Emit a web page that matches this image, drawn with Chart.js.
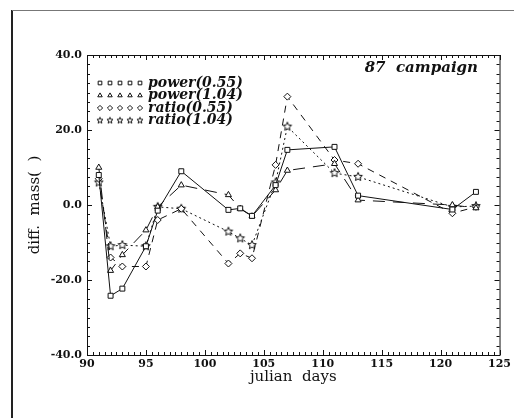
<!DOCTYPE html>
<html>
<head>
<meta charset="utf-8">
<script src="https://cdn.jsdelivr.net/npm/chart.js@4.4.1/dist/chart.umd.min.js"></script>
<style>
  html, body { margin: 0; padding: 0; background: #fff; }
  #wrap { width: 514px; height: 418px; position: relative; }
</style>
</head>
<body>
<div id="wrap"><canvas id="chart" width="514" height="418"></canvas></div>
<script>
// julian days sampled
const days = [91, 92, 93, 95, 96, 98, 102, 103, 104, 106, 107, 111, 113, 121, 123];

// diff. mass per method
const power055 = [8, -24.2, -22.3, -11, -1.5, 9, -1.3, -0.9, -2.9, 5.3, 14.7, 15.5, 2.5, -1.2, 3.5];
const power104 = [10, -17.5, -13.3, -6.7, -0.5, 5.3, 2.7, -1, -3, 4, 9.2, 11, 1.3, 0, -0.8];
const ratio055 = [7, -14, -16.4, -16.4, -4, -1, -15.6, -12.9, -14.2, 10.7, 28.9, 12, 11, -2.2, -0.5];
const ratio104 = [6, -11, -10.7, -11, -0.5, -1, -7.1, -8.9, -10.7, 6, 20.9, 8.5, 7.5, -0.5, -0.3];

const seriesNames = ['power(0.55)', 'power(1.04)', 'ratio(0.55)', 'ratio(1.04)'];
const xTicks = [90, 95, 100, 105, 110, 115, 120, 125];
const yTicks = [-40, -20, 0, 20, 40];

const serif = '"DejaVu Serif", "Liberation Serif", serif';

// outlined five-point star, since the built-in 'star' is an asterisk
function makeStar(r) {
    const c = document.createElement('canvas');
    const size = Math.ceil(r * 2 + 3);
    c.width = size;
    c.height = size;
    const g = c.getContext('2d');
    const cx = size / 2, cy = size / 2;
    g.beginPath();
    for (let i = 0; i < 10; i++) {
        const rr = i % 2 === 0 ? r : r * 0.45;
        const ang = -Math.PI / 2 + i * Math.PI / 5;
        const px = cx + rr * Math.cos(ang);
        const py = cy + rr * Math.sin(ang);
        if (i === 0) g.moveTo(px, py); else g.lineTo(px, py);
    }
    g.closePath();
    g.fillStyle = '#fff';
    g.fill();
    g.strokeStyle = '#111';
    g.lineWidth = 1;
    g.stroke();
    return c;
}
const starBig = makeStar(4.5);
const starSmall = makeStar(3.2);

function pts(values) {
    return days.map((d, i) => ({ x: d, y: values[i] }));
}

function lineSet(label, values, style, dash) {
    return {
        label: label,
        data: pts(values),
        borderColor: '#111',
        borderWidth: 1,
        borderDash: dash,
        pointStyle: style,
        pointRadius: 3.5,
        pointBorderColor: '#111',
        pointBorderWidth: 1,
        pointBackgroundColor: '#fff',
        tension: 0,
        fill: false
    };
}

// box, inward minor ticks, in-plot legend and annotation
const framePlugin = {
    id: 'frame',
    afterDatasetsDraw(chart) {
        const ctx = chart.ctx;
        const a = chart.chartArea;
        const xs = chart.scales.x;
        const ys = chart.scales.y;
        ctx.save();

        // outer page frame
        ctx.strokeStyle = '#222';
        ctx.lineWidth = 2;
        ctx.beginPath();
        ctx.moveTo(12, 418);
        ctx.lineTo(12, 10);
        ctx.stroke();
        ctx.strokeStyle = '#777';
        ctx.lineWidth = 1;
        ctx.beginPath();
        ctx.moveTo(12, 10.5);
        ctx.lineTo(514, 10.5);
        ctx.stroke();

        // plot box
        ctx.strokeStyle = '#111';
        ctx.lineWidth = 1;
        ctx.strokeRect(a.left + 0.5, a.top + 0.5, a.right - a.left, a.bottom - a.top);

        // minor ticks
        ctx.beginPath();
        for (let v = 90; v <= 125.001; v += 0.5) {
            const px = Math.round(xs.getPixelForValue(v)) + 0.5;
            const len = (v % 5 === 0) ? 5 : 3;
            ctx.moveTo(px, a.bottom);
            ctx.lineTo(px, a.bottom - len);
            ctx.moveTo(px, a.top);
            ctx.lineTo(px, a.top + len);
        }
        for (let v = -40; v <= 40.001; v += 2.5) {
            const py = Math.round(ys.getPixelForValue(v)) + 0.5;
            const len = (v % 20 === 0) ? 5 : 3;
            ctx.moveTo(a.left, py);
            ctx.lineTo(a.left + len, py);
            ctx.moveTo(a.right, py);
            ctx.lineTo(a.right - len, py);
        }
        ctx.stroke();

        // legend with five markers per entry
        const rowY = [83, 95.5, 108, 120.5];
        ctx.font = 'italic bold 14px ' + serif;
        ctx.textBaseline = 'middle';
        ctx.textAlign = 'left';
        chart.data.datasets.forEach((ds, i) => {
            ctx.strokeStyle = '#111';
            ctx.fillStyle = '#fff';
            ctx.lineWidth = 1;
            const style = ds.pointStyle === starBig ? starSmall : ds.pointStyle;
            for (let k = 0; k < 5; k++) {
                Chart.helpers.drawPoint(ctx, {
                    pointStyle: style,
                    radius: 2.6,
                    borderWidth: 1
                }, 100 + k * 10, rowY[i]);
            }
            ctx.fillStyle = '#111';
            ctx.fillText(seriesNames[i], 148, rowY[i]);
        });

        ctx.font = 'italic bold 15px ' + serif;
        ctx.textAlign = 'right';
        ctx.fillText('87  campaign', 478, 68);
        ctx.restore();
    }
};

new Chart(document.getElementById('chart'), {
    type: 'line',
    data: {
        datasets: [
            lineSet(seriesNames[0], power055, 'rect', []),
            lineSet(seriesNames[1], power104, 'triangle', [12, 8]),
            lineSet(seriesNames[2], ratio055, 'rectRot', [7, 6]),
            lineSet(seriesNames[3], ratio104, starBig, [2, 3])
        ]
    },
    options: {
        responsive: false,
        animation: false,
        layout: { padding: { top: 55, right: 14, left: 0, bottom: 0 } },
        plugins: {
            legend: { display: false },
            tooltip: { enabled: false }
        },
        scales: {
            x: {
                type: 'linear',
                min: 90,
                max: 125,
                afterBuildTicks: (s) => { s.ticks = xTicks.map(v => ({ value: v })); },
                afterFit: (s) => { s.height = 63; },
                grid: { display: false, drawTicks: false },
                border: { display: false },
                ticks: {
                    padding: 3,
                    color: '#111',
                    font: { family: serif, size: 11, weight: 'bold' },
                    callback: (v) => String(v)
                },
                title: {
                    display: true,
                    text: 'julian  days',
                    color: '#111',
                    font: { family: serif, size: 15 },
                    padding: { top: 0, bottom: 32 }
                }
            },
            y: {
                min: -40,
                max: 40,
                afterBuildTicks: (s) => { s.ticks = yTicks.map(v => ({ value: v })); },
                afterFit: (s) => { s.width = 87; },
                grid: { display: false, drawTicks: false },
                border: { display: false },
                ticks: {
                    padding: 5,
                    color: '#111',
                    font: { family: serif, size: 11, weight: 'bold' },
                    callback: (v) => v.toFixed(1)
                },
                title: {
                    display: true,
                    text: 'diff.  mass(  )',
                    color: '#111',
                    font: { family: serif, size: 15 },
                    padding: { top: 26, bottom: 0 }
                }
            }
        }
    },
    plugins: [framePlugin]
});
</script>
</body>
</html>
